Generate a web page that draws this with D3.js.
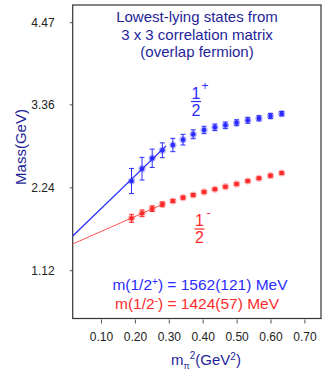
<!DOCTYPE html>
<html><head><meta charset="utf-8">
<script src="https://cdn.jsdelivr.net/npm/d3@7"></script>
<style>body{margin:0;background:#fff}svg{display:block}text{font-family:"Liberation Sans",Arial,sans-serif}</style>
</head><body><div id="c"></div>
<script>
const mpi2 = [0.190,0.221,0.251,0.281,0.312,0.342,0.372,0.404,0.436,0.467,0.500,0.533,0.566,0.600,0.633];
const massPlus = [2.325,2.491,2.632,2.740,2.811,2.883,2.956,3.014,3.050,3.077,3.112,3.145,3.172,3.203,3.234];
const errPlus  = [0.170,0.153,0.124,0.100,0.090,0.072,0.060,0.050,0.045,0.045,0.040,0.040,0.035,0.035,0.030];
const massMinus = [1.821,1.889,1.951,2.010,2.055,2.100,2.136,2.177,2.213,2.248,2.285,2.325,2.362,2.397,2.433];
const errMinus  = [0.054,0.045,0.038,0.032,0.020,0.018,0.018,0.016,0.016,0.015,0.015,0.015,0.015,0.015,0.015];
const fitPlus = {intercept:1.510, slope:4.415, xmax:0.292};
const fitMinus = {intercept:1.441, slope:2.02, xmax:0.289};
const xTicks = [0.10,0.20,0.30,0.40,0.50,0.60,0.70];
const yTicks = [1.12,2.24,3.36,4.47];
const titleLines = ["Lowest-lying states from","3 x 3 correlation matrix","(overlap fermion)"];

const W=327,H=382;
const L=72.7,R=321,T=5,B=318.5;
const x=d3.scaleLinear().domain([0.0165,0.749]).range([L,R]);
const y=d3.scaleLinear().domain([0.468,4.702]).range([B,T]);
const navy="#1f1f99", blue="#2b2bff", red="#ff2b2b";

const svg=d3.select("#c").append("svg").attr("width",W).attr("height",H);
svg.append("rect").attr("x",L).attr("y",T).attr("width",R-L).attr("height",B-T)
  .attr("fill","none").attr("stroke","#333").attr("stroke-width",1.2);

// axes
const xa=svg.append("g").attr("transform",`translate(0,${B+1})`)
  .call(d3.axisBottom(x).tickValues(xTicks).tickFormat(d3.format(".2f")).tickSize(4).tickPadding(9));
xa.select(".domain").remove();
xa.selectAll("text").attr("font-size",12).attr("fill","#222");
xa.selectAll("line").attr("stroke","#555");
const ya=svg.append("g").attr("transform",`translate(${L},0)`)
  .call(d3.axisLeft(y).tickValues(yTicks).tickFormat(d3.format(".2f")).tickSize(3).tickPadding(15));
ya.select(".domain").remove();
ya.selectAll("text").attr("font-size",12).attr("fill","#222");
ya.selectAll("line").attr("stroke","#555");

// fit lines
function fitLine(f,col,w){
  const xs=[x.domain()[0],f.xmax];
  svg.append("line").attr("x1",x(xs[0])).attr("y1",y(f.intercept+f.slope*xs[0]))
    .attr("x2",x(xs[1])).attr("y2",y(f.intercept+f.slope*xs[1]))
    .attr("stroke",col).attr("stroke-width",w);
}
fitLine(fitPlus,blue,1.3);
fitLine(fitMinus,"#ff5555",1);

function series(vals,errs,col){
  const g=svg.append("g");
  mpi2.forEach((m,i)=>{
    const cx=x(m), y1=y(vals[i]-errs[i]), y2=y(vals[i]+errs[i]);
    g.append("line").attr("x1",cx).attr("x2",cx).attr("y1",y1).attr("y2",y2).attr("stroke",col).attr("stroke-width",1);
    [y1,y2].forEach(yy=>g.append("line").attr("x1",cx-2.5).attr("x2",cx+2.5).attr("y1",yy).attr("y2",yy).attr("stroke",col).attr("stroke-width",1));
    g.append("circle").attr("cx",cx).attr("cy",y(vals[i])).attr("r",3.6).attr("fill",col).attr("opacity",0.35);
    g.append("circle").attr("cx",cx).attr("cy",y(vals[i])).attr("r",2.3).attr("fill",col);
  });
}
series(massPlus,errPlus,blue);
series(massMinus,errMinus,red);

// title
titleLines.forEach((t,i)=>svg.append("text").attr("x",197).attr("y",22+i*17.5)
  .attr("text-anchor","middle").attr("font-size",15).attr("fill",navy).text(t));

// fraction labels
function frac(cx,cyBar,col,sign){
  const g=svg.append("g").attr("fill",col);
  g.append("text").attr("x",cx).attr("y",cyBar-3).attr("text-anchor","middle").attr("font-size",16).text("1");
  g.append("line").attr("x1",cx-5).attr("x2",cx+5).attr("y1",cyBar).attr("y2",cyBar).attr("stroke",col).attr("stroke-width",1.2);
  g.append("text").attr("x",cx).attr("y",cyBar+14).attr("text-anchor","middle").attr("font-size",16).text("2");
  g.append("text").attr("x",cx+9).attr("y",cyBar-12).attr("text-anchor","middle").attr("font-size",12).text(sign);
}
frac(196,101.5,blue,"+");
frac(199.5,229,red,"-");

// results
const r1=svg.append("text").attr("x",200).attr("y",290).attr("text-anchor","middle").attr("font-size",15.5).attr("fill",blue);
r1.append("tspan").text("m(1/2");
r1.append("tspan").attr("dy",-5).attr("font-size",10).text("+");
r1.append("tspan").attr("dy",5).text(") = 1562(121) MeV");
const r2=svg.append("text").attr("x",197).attr("y",309).attr("text-anchor","middle").attr("font-size",15.5).attr("fill",red);
r2.append("tspan").text("m(1/2");
r2.append("tspan").attr("dy",-5).attr("font-size",10).text("-");
r2.append("tspan").attr("dy",5).text(") = 1424(57) MeV");

// axis labels
const xl=svg.append("text").attr("x",206).attr("y",365).attr("text-anchor","middle").attr("font-size",15).attr("fill",navy);
xl.append("tspan").text("m");
xl.append("tspan").attr("dy",4).attr("font-size",9).text("π");
xl.append("tspan").attr("dy",-10).attr("font-size",10).text("2");
xl.append("tspan").attr("dy",6).text("(GeV");
xl.append("tspan").attr("dy",-5).attr("font-size",10).text("2");
xl.append("tspan").attr("dy",5).text(")");
svg.append("text").attr("transform","translate(26,147) rotate(-90)").attr("text-anchor","middle")
  .attr("font-size",15).attr("fill",navy).text("Mass(GeV)");
</script></body></html>
